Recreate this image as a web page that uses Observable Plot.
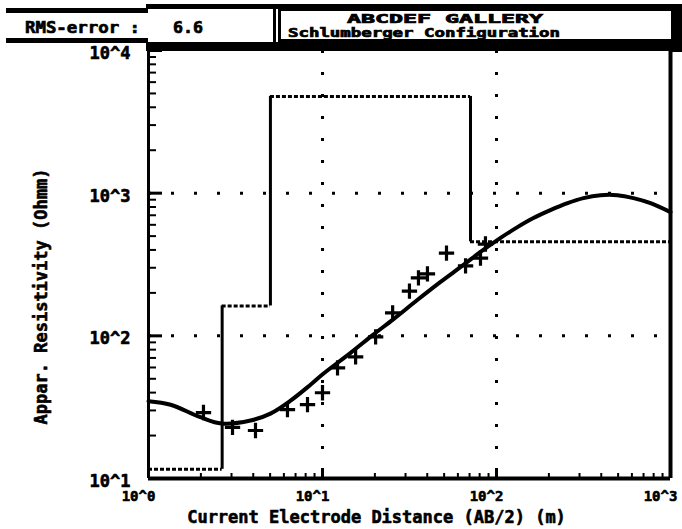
<!DOCTYPE html>
<html><head><meta charset="utf-8">
<script src="https://cdn.jsdelivr.net/npm/d3@7"></script>
<script src="https://cdn.jsdelivr.net/npm/@observablehq/plot@0.6"></script>
<style>
body{margin:0;background:#fff}
#wrap{position:relative;width:682px;height:529px;overflow:hidden}
#header{position:absolute;left:0;top:0}
#header text{font-family:"DejaVu Sans Mono",monospace;font-weight:bold;fill:#000;stroke:#000;stroke-width:0.7}
</style></head><body><div id="wrap"></div>
<script>
// ---- data ----
const curveX = [1, 1.34, 1.99, 2.63, 3.86, 5.02, 6.55, 8.53, 10.1, 14.5, 19.6, 25.6, 35.2, 47.7, 64.6, 80.9, 105, 132, 163, 204, 256, 316, 396, 496, 613, 768, 1000];
const curveY = [34.8, 32.9, 26.9, 24.3, 25.5, 28.5, 35.1, 45.4, 54.2, 76.0, 102, 131, 179, 239, 314, 387, 484, 578, 669, 760, 851, 923, 968, 968, 923, 851, 736];
const obsX = [2.07, 3.04, 4.12, 6.29, 8.20, 10.0, 12.2, 15.5, 20.2, 25.3, 31.6, 35.6, 40.1, 51.6, 66.4, 80.9, 86.4];
const obsY = [29.0, 22.8, 21.7, 30.4, 32.9, 39.9, 59.7, 71.3, 98.4, 145, 206, 255, 272, 380, 309, 351, 440];
const layerTop = [1, 2.65, 5.02, 70.9];
const layerBottom = [2.65, 5.02, 70.9, 1000];
const layerRho = [11.6, 162, 4765, 456];
const xMajor = [1, 10, 100, 1000];
const xLabels = ["10^0", "10^1", "10^2", "10^3"];
const yMajor = [10, 100, 1000, 10000];
const yLabels = ["10^1", "10^2", "10^3", "10^4"];
const xGrid = [10, 100];
const yGrid = [100, 1000];
const xTitle = "Current Electrode Distance (AB/2) (m)";
const yTitle = "Appar. Resistivity (Ohmm)";
const rmsLabel = "RMS-error :";
const rmsValue = "6.6";
const titleTop = "ABCDEF GALLERY";
const titleBottom = "Schlumberger Configuration";

// ---- build ----
const W = 682, H = 529, mL = 148, mR = 12, mT = 50, mB = 51;
const fw = W - mL - mR, fh = H - mT - mB;
const xMinor = d3.scaleLog().domain([1, 1000]).ticks().filter(v => !xMajor.includes(v));
const yMinor = d3.scaleLog().domain([10, 10000]).ticks().filter(v => !yMajor.includes(v));
const curve = curveX.map((x, i) => ({x, y: curveY[i]}));
const obs = obsX.map((x, i) => ({x, y: obsY[i]}));
const layers = layerRho.map((r, i) => ({r, x1: layerTop[i], x2: layerBottom[i]}));
const steps = layerRho.slice(1).map((r, i) => ({x: layerBottom[i], y1: layerRho[i], y2: r}));
const font = {fontFamily: "DejaVu Sans Mono, monospace", fontWeight: "bold", fontSize: 17, fill: "black", stroke: "black", strokeWidth: 0.6, lineAnchor: "middle"};

const chart = Plot.plot({
  width: W, height: H,
  marginLeft: mL, marginRight: mR, marginTop: mT, marginBottom: mB,
  x: {type: "log", domain: [1, 1000], axis: null},
  y: {type: "log", domain: [10, 10000], axis: null},
  style: {background: "white"},
  marks: [
    Plot.ruleX(xGrid, {stroke: "black", strokeWidth: 3, strokeDasharray: "3,19"}),
    Plot.ruleY(yGrid, {stroke: "black", strokeWidth: 3, strokeDasharray: "3,20"}),
    Plot.ruleX(xMinor, {stroke: "black", strokeWidth: 2, insetTop: fh - 5}),
    Plot.ruleX(xMajor, {stroke: "black", strokeWidth: 3, insetTop: fh - 10}),
    Plot.ruleY(yMinor, {stroke: "black", strokeWidth: 2, insetRight: fw - 8}),
    Plot.ruleY(yMajor, {stroke: "black", strokeWidth: 3, insetRight: fw - 14}),
    Plot.ruleY(layers, {y: "r", x1: "x1", x2: "x2", stroke: "black", strokeWidth: 3, strokeDasharray: "4,2"}),
    Plot.ruleX(steps, {x: "x", y1: "y1", y2: "y2", stroke: "black", strokeWidth: 3}),
    Plot.line(curve, {x: "x", y: "y", stroke: "black", strokeWidth: 4, curve: "catmull-rom"}),
    Plot.dot(obs, {x: "x", y: "y", symbol: "plus", r: 5, stroke: "black", strokeWidth: 3.2}),
    Plot.ruleX([1], {stroke: "black", strokeWidth: 3}),
    Plot.ruleX([1000], {stroke: "black", strokeWidth: 4}),
    Plot.ruleY([10], {stroke: "black", strokeWidth: 4}),
    Plot.text(xMajor, {x: d => d, text: (d, i) => xLabels[i], frameAnchor: "bottom", dy: 18, dx: -10, ...font, fontSize: 14}),
    Plot.text(yMajor, {y: d => d, text: (d, i) => yLabels[i], frameAnchor: "left", dx: -18, dy: 3, textAnchor: "end", ...font}),
    Plot.text([xTitle], {text: d => d, frameAnchor: "bottom", dy: 39, dx: -33, textAnchor: "middle", ...font}),
    Plot.text([yTitle], {text: d => d, frameAnchor: "left", dx: -107, dy: 32, rotate: -90, textAnchor: "middle", ...font})
  ]
});
const wrap = document.getElementById("wrap");
wrap.appendChild(chart);

// header boxes
const hdr = d3.create("svg").attr("id", "header").attr("width", W).attr("height", 55);
const blk = (x, y, w, h) => hdr.append("rect").attr("x", x).attr("y", y).attr("width", w).attr("height", h).attr("fill", "black");
blk(6, 8, 142, 5);
blk(146, 4, 536, 5);
blk(672, 4, 10, 48);
blk(6, 38, 142, 5);
blk(146, 42, 536, 9);
blk(273, 8, 3, 35);
hdr.append("rect").attr("x", 279.5).attr("y", 9.5).attr("width", 393).attr("height", 31).attr("fill", "white").attr("stroke", "black").attr("stroke-width", 3);
hdr.append("text").attr("x", 25).attr("y", 33).attr("font-size", 16).attr("textLength", 115).attr("lengthAdjust", "spacingAndGlyphs").text(rmsLabel);
hdr.append("text").attr("x", 173).attr("y", 33).attr("font-size", 16).attr("textLength", 30).attr("lengthAdjust", "spacingAndGlyphs").text(rmsValue);
hdr.append("text").attr("x", 347).attr("y", 23).attr("font-size", 12).attr("textLength", 196).attr("lengthAdjust", "spacingAndGlyphs").text(titleTop);
hdr.append("text").attr("x", 288).attr("y", 37).attr("font-size", 12).attr("textLength", 272).attr("lengthAdjust", "spacingAndGlyphs").text(titleBottom);
wrap.appendChild(hdr.node());
</script></body></html>
